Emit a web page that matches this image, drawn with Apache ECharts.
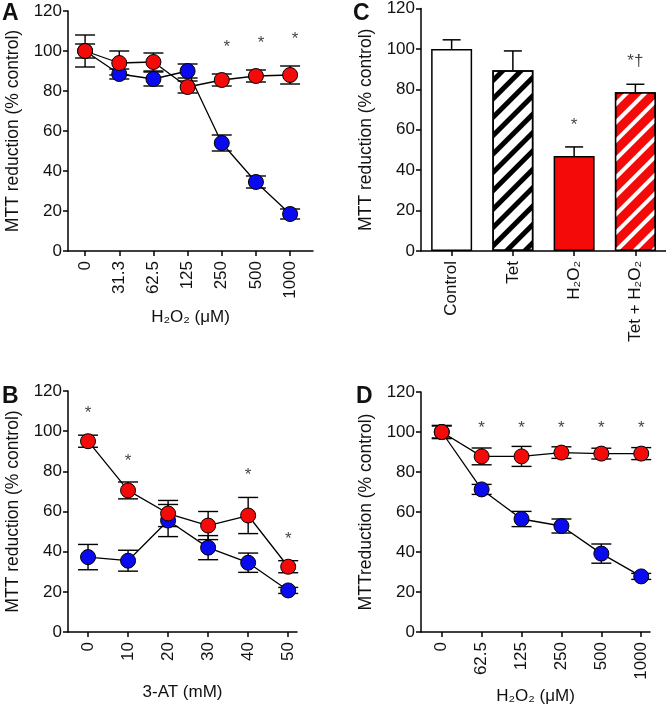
<!DOCTYPE html>
<html>
<head>
<meta charset="utf-8">
<script src="https://cdn.jsdelivr.net/npm/echarts@6/dist/echarts.min.js"></script>
<style>
  html, body { margin: 0; padding: 0; background: #fff; }
  #chart { width: 666px; height: 710px; }
</style>
</head>
<body>
<div id="chart"></div>
<script>
// panel A: H2O2 dose response
var aDoses = ['0', '31.3', '62.5', '125', '250', '500', '1000'];
var aBlue = [100, 88.5, 86, 90, 54, 34.5, 18.5];
var aBlueErr = [8, 2.5, 3.5, 3.5, 4, 3, 2.5];
var aRed = [100, 94, 94.5, 82, 85.5, 87.5, 88];
var aRedErr = [3.5, 6, 4.5, 3, 3, 3, 4.5];
var aStarX = [4, 5, 6];
var aStarY = [104, 106, 108];

// panel B: 3-AT
var bDoses = ['0', '10', '20', '30', '40', '50'];
var bRed = [95, 70.5, 59, 53, 58, 32.5];
var bRedErr = [3, 4.2, 6.5, 7, 9, 3];
var bBlue = [37.3, 35.5, 55.5, 42, 34.5, 20.7];
var bBlueErr = [6.3, 5.2, 8, 6, 4.8, 1.5];
var bStarX = [0, 1, 4, 5];
var bStarY = [111, 87, 80, 48];

// panel C: bars
var cGroups = ['Control', 'Tet', 'H₂O₂', 'Tet + H₂O₂'];
var cMeans = [100, 89.5, 47, 78.5];
var cErr = [4.5, 9.5, 4.5, 4];
var cMarks = ['', '', '*', '*†'];
var cMarkY = [0, 0, 64, 96];

// panel D: H2O2
var dDoses = ['0', '62.5', '125', '250', '500', '1000'];
var dRed = [100, 87.8, 87.8, 89.7, 89.2, 89.2];
var dRedErr = [3.3, 4.2, 5, 2.9, 2.7, 3];
var dBlue = [100, 71.3, 56.5, 53, 39.2, 27.8];
var dBlueErr = [3, 2.5, 3.8, 3.5, 4.8, 1.5];
var dStarX = [1, 2, 3, 4, 5];
var dStarY = [104, 104, 104, 104, 104];

var RED = '#f50a0a';
var BLUE = '#0a0af0';
var FONT = 'Liberation Sans, Arial, sans-serif';

var myChart = echarts.init(document.getElementById('chart'));

function pairs(vals) {
    return vals.map(function(v, i) { return [i, v]; });
}

function idxList(n) {
    var out = [];
    for (var i = 0; i < n; i++) out.push(i);
    return out;
}

function xValueAxis(gi, labels, min, max, name, gap) {
    return {
        type: 'value', gridIndex: gi, min: min, max: max,
        name: name, nameLocation: 'middle', nameGap: gap,
        nameTextStyle: { fontSize: 17, color: '#111', fontFamily: FONT },
        axisLine: { onZero: false, lineStyle: { color: '#000', width: 1.5 } },
        axisTick: { show: true, length: 5, customValues: idxList(labels.length), lineStyle: { color: '#000', width: 1.5 } },
        axisLabel: {
            rotate: 90, margin: 10, fontSize: 17, color: '#111', fontFamily: FONT,
            customValues: idxList(labels.length),
            formatter: function(v) { return labels[v]; }
        },
        splitLine: { show: false }
    };
}

function yAxis(gi, name) {
    return {
        type: 'value', gridIndex: gi, min: 0, max: 120, interval: 20,
        name: name, nameLocation: 'middle', nameGap: 46,
        nameTextStyle: { fontSize: 17.5, color: '#111', fontFamily: FONT },
        axisLine: { show: true, onZero: false, lineStyle: { color: '#000', width: 1.5 } },
        axisTick: { show: true, length: 5, lineStyle: { color: '#000', width: 1.5 } },
        axisLabel: { margin: 6, fontSize: 17, color: '#111', fontFamily: FONT },
        splitLine: { show: false }
    };
}

function errSeries(ai, means, errs, capW, upOnly) {
    return {
        type: 'custom', xAxisIndex: ai, yAxisIndex: ai, z: 1, silent: true,
        encode: { x: 0, y: [1, 2] },
        data: means.map(function(m, i) { return [i, upOnly ? m : m - errs[i], m + errs[i]]; }),
        renderItem: function(params, api) {
            var lo = api.coord([api.value(0), api.value(1)]);
            var hi = api.coord([api.value(0), api.value(2)]);
            var h = capW / 2;
            var st = { stroke: '#000', lineWidth: 1.4 };
            var kids = [
                { type: 'line', shape: { x1: hi[0], y1: hi[1], x2: lo[0], y2: lo[1] }, style: st },
                { type: 'line', shape: { x1: hi[0] - h, y1: hi[1], x2: hi[0] + h, y2: hi[1] }, style: st }
            ];
            if (!upOnly) {
                kids.push({ type: 'line', shape: { x1: lo[0] - h, y1: lo[1], x2: lo[0] + h, y2: lo[1] }, style: st });
            }
            return { type: 'group', children: kids };
        }
    };
}

function lineSeries(ai, vals, color, z) {
    return {
        type: 'line', xAxisIndex: ai, yAxisIndex: ai, z: z,
        data: pairs(vals), symbol: 'circle', symbolSize: 15,
        itemStyle: { color: color, borderColor: '#000', borderWidth: 1 },
        lineStyle: { color: '#000', width: 1.3 },
        emphasis: { disabled: true }
    };
}

function markSeries(ai, xs, ys, texts, dx) {
    return {
        type: 'scatter', xAxisIndex: ai, yAxisIndex: ai, z: 5, silent: true,
        symbolSize: 1, itemStyle: { color: 'rgba(0,0,0,0)' },
        data: xs.map(function(x, i) { return [x, ys[i], texts[i]]; }),
        label: {
            show: true, position: 'inside', offset: [dx, 4],
            fontSize: 17, color: '#111', fontFamily: FONT,
            formatter: function(p) { return p.value[2]; }
        }
    };
}

function stars(n) {
    var out = [];
    for (var i = 0; i < n; i++) out.push('*');
    return out;
}

var cBars = cMeans.map(function(v, i) {
    var st = { borderColor: '#000', borderWidth: 1.5 };
    if (i === 0) st.color = '#fff';
    if (i === 1) {
        st.color = '#fff';
        st.decal = { symbol: 'rect', symbolSize: 1, color: '#000', dashArrayX: [1, 0], dashArrayY: [5, 8], rotation: -Math.PI / 4 };
    }
    if (i === 2) st.color = RED;
    if (i === 3) {
        st.color = RED;
        st.decal = { symbol: 'rect', symbolSize: 1, color: '#fff', dashArrayX: [1, 0], dashArrayY: [4, 9], rotation: -Math.PI / 4 };
    }
    return { value: v, itemStyle: st };
});

var cMarkX = [], cMarkV = [], cMarkT = [];
cMarks.forEach(function(m, i) {
    if (m) { cMarkX.push(i); cMarkV.push(cMarkY[i]); cMarkT.push(m); }
});

var letter = function(t, x, y) {
    return { type: 'text', left: x, top: y, style: { text: t, fill: '#111', font: 'bold 23px ' + FONT } };
};

var option = {
    animation: false,
    backgroundColor: '#fff',
    textStyle: { fontFamily: FONT },
    graphic: [letter('A', 2, 2), letter('C', 353, 2), letter('B', 2, 385), letter('D', 356, 385)],
    grid: [
        { left: 68, top: 11, width: 245, height: 240 },
        { left: 421, top: 7, width: 245, height: 244 },
        { left: 68, top: 391, width: 229, height: 241 },
        { left: 421, top: 392, width: 229, height: 240 }
    ],
    xAxis: [
        xValueAxis(0, aDoses, -0.5, 6.67, 'H₂O₂ (μM)', 58),
        {
            type: 'category', gridIndex: 1, data: cGroups,
            axisLine: { lineStyle: { color: '#000', width: 1.5 } },
            axisTick: { show: true, length: 5, alignWithLabel: true, lineStyle: { color: '#000', width: 1.5 } },
            axisLabel: { rotate: 90, margin: 10, fontSize: 17, color: '#111', fontFamily: FONT, interval: 0 }
        },
        xValueAxis(2, bDoses, -0.5, 5.22, '3-AT (mM)', 52),
        xValueAxis(3, dDoses, -0.52, 5.22, 'H₂O₂ (μM)', 56)
    ],
    yAxis: [
        yAxis(0, 'MTT reduction (% control)'),
        yAxis(1, 'MTT reduction (% control)'),
        yAxis(2, 'MTT reduction (% control)'),
        yAxis(3, 'MTTreduction (% control)')
    ],
    series: [
        // A
        errSeries(0, aBlue, aBlueErr, 20, false),
        errSeries(0, aRed, aRedErr, 20, false),
        lineSeries(0, aBlue, BLUE, 2),
        lineSeries(0, aRed, RED, 3),
        markSeries(0, aStarX, aStarY, stars(aStarX.length), 5),
        // C
        {
            type: 'bar', xAxisIndex: 1, yAxisIndex: 1, barWidth: 41, z: 2,
            data: cBars, emphasis: { disabled: true }
        },
        {
            type: 'custom', xAxisIndex: 1, yAxisIndex: 1, z: 1, silent: true,
            encode: { x: 0, y: [1, 2] },
            data: cMeans.map(function(m, i) { return [i, m, m + cErr[i]]; }),
            renderItem: function(params, api) {
                var lo = api.coord([api.value(0), api.value(1)]);
                var hi = api.coord([api.value(0), api.value(2)]);
                var st = { stroke: '#000', lineWidth: 1.5 };
                return { type: 'group', children: [
                    { type: 'line', shape: { x1: hi[0], y1: hi[1], x2: lo[0], y2: lo[1] }, style: st },
                    { type: 'line', shape: { x1: hi[0] - 9, y1: hi[1], x2: hi[0] + 9, y2: hi[1] }, style: st }
                ] };
            }
        },
        markSeries(1, cMarkX, cMarkV, cMarkT, 0),
        // B
        errSeries(2, bBlue, bBlueErr, 20, false),
        errSeries(2, bRed, bRedErr, 20, false),
        lineSeries(2, bBlue, BLUE, 2),
        lineSeries(2, bRed, RED, 3),
        markSeries(2, bStarX, bStarY, stars(bStarX.length), 0),
        // D
        errSeries(3, dBlue, dBlueErr, 20, false),
        errSeries(3, dRed, dRedErr, 20, false),
        lineSeries(3, dBlue, BLUE, 2),
        lineSeries(3, dRed, RED, 3),
        markSeries(3, dStarX, dStarY, stars(dStarX.length), 0)
    ]
};

myChart.setOption(option);
</script>
</body>
</html>
